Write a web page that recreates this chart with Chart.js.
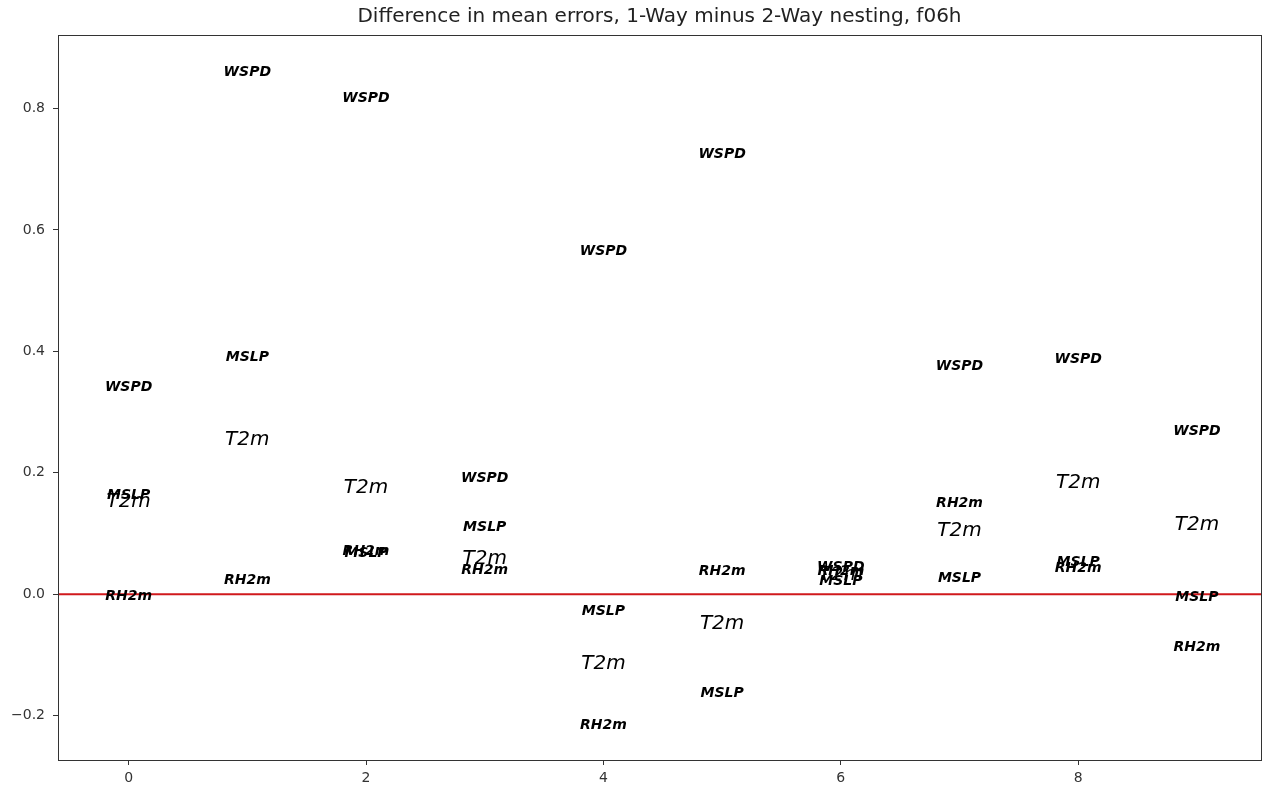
<!DOCTYPE html>
<html>
<head>
<meta charset="utf-8">
<script src="https://cdn.jsdelivr.net/npm/chart.js@4.4.1/dist/chart.umd.min.js"></script>
<style>
  html, body { margin: 0; padding: 0; background: #fff; }
  #wrap { width: 1264px; height: 787px; }
</style>
</head>
<body>
<div id="wrap"><canvas id="myChart" width="1264" height="787"></canvas></div>
<script>
// experiment index 0..9, one value per variable
const runs = [0, 1, 2, 3, 4, 5, 6, 7, 8, 9];
const wspd = [0.341, 0.860, 0.817, 0.191, 0.565, 0.725, 0.045, 0.376, 0.387, 0.269];
const mslp = [0.163, 0.390, 0.068, 0.110, -0.029, -0.164, 0.022, 0.026, 0.052, -0.005];
const t2m  = [0.153, 0.255, 0.176, 0.059, -0.115, -0.048, 0.032, 0.105, 0.183, 0.114];
const rh2m = [-0.003, 0.023, 0.070, 0.040, -0.216, 0.037, 0.038, 0.149, 0.042, -0.087];
const xTicks = [0, 2, 4, 6, 8];
const yTicks = [-0.2, 0.0, 0.2, 0.4, 0.6, 0.8];
const zeroLine = 0;
const titleText = 'Difference in mean errors, 1-Way minus 2-Way nesting, f06h';

const labelFonts = {
  WSPD: "italic bold 14px 'DejaVu Sans'",
  MSLP: "italic bold 14px 'DejaVu Sans'",
  T2m: "italic 20px 'DejaVu Sans'",
  RH2m: "italic bold 14px 'DejaVu Sans'",
};

const mkSet = (name, vals) => ({
  label: name,
  data: runs.map((r, i) => ({ x: r, y: vals[i] })),
  pointRadius: 0,
  pointHoverRadius: 0,
  showLine: false,
});

// draws each point as its variable name, like plt.text
const textMarks = {
  id: 'textMarks',
  afterDatasetsDraw(chart) {
    const ctx = chart.ctx;
    ctx.save();
    ctx.textAlign = 'center';
    ctx.textBaseline = 'middle';
    ctx.fillStyle = '#000';
    chart.data.datasets.forEach((ds, i) => {
      const meta = chart.getDatasetMeta(i);
      ctx.font = labelFonts[ds.label];
      meta.data.forEach(pt => ctx.fillText(ds.label, pt.x, pt.y));
    });
    ctx.restore();
  },
};

// red zero line, box round the axes, title centred over the axes
const frame = {
  id: 'frame',
  beforeDatasetsDraw(chart) {
    const { ctx, chartArea: a, scales } = chart;
    const y0 = scales.y.getPixelForValue(zeroLine);
    ctx.save();
    ctx.strokeStyle = '#d0191c';
    ctx.lineWidth = 2;
    ctx.beginPath();
    ctx.moveTo(a.left, y0);
    ctx.lineTo(a.right, y0);
    ctx.stroke();
    ctx.restore();
  },
  afterDraw(chart) {
    const { ctx, chartArea: a } = chart;
    ctx.save();
    ctx.strokeStyle = '#333';
    ctx.lineWidth = 1;
    ctx.strokeRect(a.left + 0.5, a.top + 0.5, a.right - a.left, a.bottom - a.top);
    ctx.fillStyle = '#222';
    ctx.font = "20px 'DejaVu Sans'";
    ctx.textAlign = 'center';
    ctx.textBaseline = 'middle';
    ctx.fillText(titleText, (a.left + a.right) / 2, 17);
    ctx.restore();
  },
};

const fmtY = v => v.toFixed(1).replace('-', '\u2212');

new Chart(document.getElementById('myChart'), {
  type: 'scatter',
  data: {
    datasets: [
      mkSet('WSPD', wspd),
      mkSet('MSLP', mslp),
      mkSet('T2m', t2m),
      mkSet('RH2m', rh2m),
    ],
  },
  options: {
    responsive: false,
    animation: false,
    layout: { padding: { left: 0, right: 3, top: 35, bottom: 0 } },
    plugins: {
      legend: { display: false },
      tooltip: { enabled: false },
      title: { display: false },
    },
    scales: {
      x: {
        type: 'linear',
        min: -0.595,
        max: 9.54,
        afterBuildTicks: axis => { axis.ticks = xTicks.map(v => ({ value: v })); },
        afterFit: axis => { axis.height = 27; },
        ticks: {
          color: '#333',
          font: { family: 'DejaVu Sans', size: 14 },
          padding: 5,
          maxRotation: 0,
          callback: v => String(v),
        },
        grid: { drawOnChartArea: false, drawTicks: true, tickLength: 5, color: '#333' },
        border: { color: '#333', width: 1 },
      },
      y: {
        type: 'linear',
        min: -0.273,
        max: 0.921,
        afterBuildTicks: axis => { axis.ticks = yTicks.map(v => ({ value: v })); },
        afterFit: axis => { axis.width = 58; },
        ticks: {
          color: '#333',
          font: { family: 'DejaVu Sans', size: 14 },
          padding: 8,
          callback: v => fmtY(v),
        },
        grid: { drawOnChartArea: false, drawTicks: true, tickLength: 5, color: '#333' },
        border: { color: '#333', width: 1 },
      },
    },
  },
  plugins: [frame, textMarks],
});
</script>
</body>
</html>
